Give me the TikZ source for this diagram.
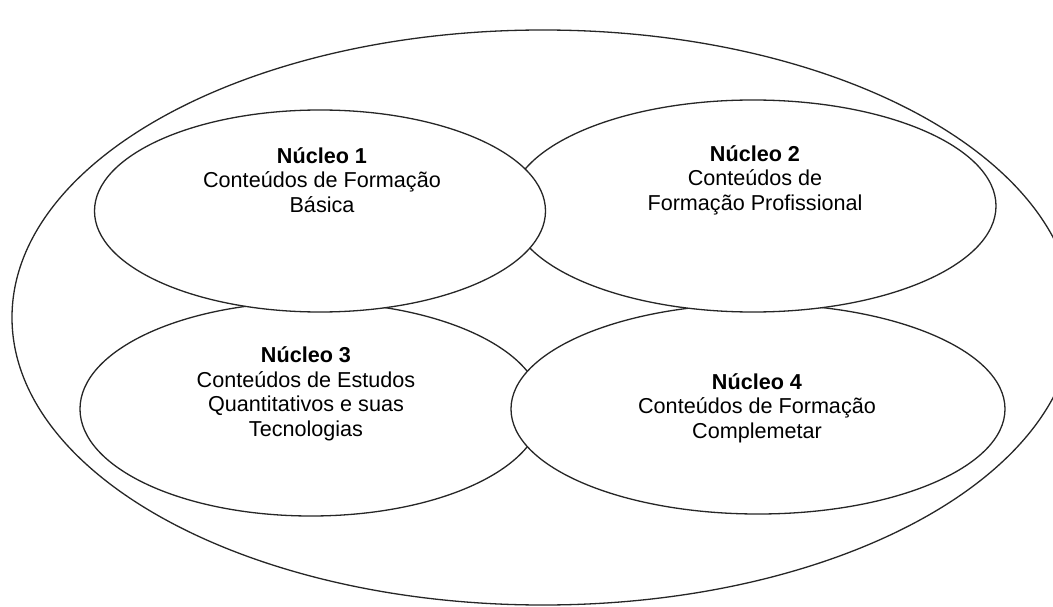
\documentclass[tikz,border=0pt]{standalone}
\usepackage{fontspec}
\setmainfont{Liberation Sans}
\usetikzlibrary{shapes.geometric}

\tikzset{
  nucleo/.style={draw=black!85, line width=1.3pt, fill=white, ellipse, inner sep=0pt},
  rotulo/.style={align=center, font=\fontsize{21.6}{24.5}\selectfont}
}

\begin{document}
\begin{tikzpicture}[x=1pt,y=-1pt]
    \useasboundingbox (0,0) rectangle (1053,607);

    % Outer region
    \node[nucleo, minimum width=1062pt, minimum height=575pt] (todo) at (543,317.5) {};

    % Nucleos (drawn bottom to top)
    \node[nucleo, minimum width=462pt, minimum height=214pt] (n3) at (311,409) {};
    \node[nucleo, minimum width=494pt, minimum height=210pt] (n4) at (758,409) {};
    \node[nucleo, minimum width=486pt, minimum height=212pt] (n2) at (753,206) {};
    \node[nucleo, minimum width=451pt, minimum height=202pt] (n1) at (320,211) {};

    % Labels
    \node[rotulo] (t1) at (322,180) {\textbf{Núcleo 1}\\Conteúdos de Formação\\Básica};
    \node[rotulo] (t2) at (755,180) {\textbf{Núcleo 2}\\Conteúdos de\\Formação Profissional};
    \node[rotulo] (t3) at (306,394) {\textbf{Núcleo 3}\\Conteúdos de Estudos\\Quantitativos e suas\\Tecnologias};
    \node[rotulo] (t4) at (757,408) {\textbf{Núcleo 4}\\Conteúdos de Formação\\Complemetar};
\end{tikzpicture}
\end{document}
